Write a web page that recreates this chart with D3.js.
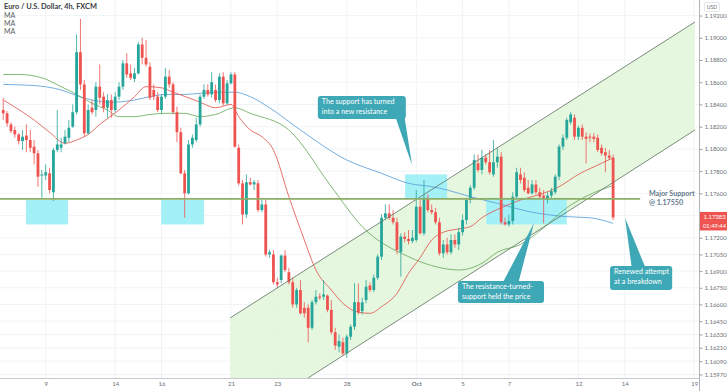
<!DOCTYPE html>
<html><head><meta charset="utf-8">
<script src="https://cdn.jsdelivr.net/npm/d3@7"></script>
<style>html,body{margin:0;padding:0;background:#fff;}svg{display:block;}</style>
</head><body>
<svg id="c" width="728" height="391"></svg>
<script>
// ---------- DATA (EUR/USD 4h, FXCM) ----------
const opens = [
1.1835,1.1832,1.1822,1.1817,1.1813,1.1807,1.1812,1.1808,1.1802,1.1796,
1.1776,1.1776,1.1778,1.1761,1.1799,1.1801,1.1805,1.1810,1.1820,1.1833,
1.1887,1.1858,1.1814,1.1837,1.1835,1.1856,1.1847,1.1837,1.1844,1.1835,
1.1847,1.1856,1.1877,1.1868,1.1863,1.1868,1.1894,1.1882,1.1874,1.1853,
1.1847,1.1835,1.1847,1.1865,1.1858,1.1833,1.1815,1.1778,1.1760,1.1804,
1.1808,1.1822,1.1847,1.1853,1.1849,1.1853,1.1844,1.1865,1.1841,1.1859,
1.1867,1.1801,1.1769,1.1741,1.1770,1.1768,1.1769,1.1745,1.1750,1.1705,
1.1705,1.1680,1.1682,1.1704,1.1689,1.1680,1.1660,1.1673,1.1657,1.1657,
1.1639,1.1662,1.1667,1.1667,1.1668,1.1655,1.1635,1.1622,1.1626,1.1616,
1.1631,1.1640,1.1662,1.1654,1.1664,1.1677,1.1673,1.1684,1.1703,1.1738,
1.1742,1.1738,1.1734,1.1707,1.1721,1.1719,1.1717,1.1718,1.1748,1.1724,
1.1756,1.1745,1.1743,1.1734,1.1706,1.1714,1.1707,1.1718,1.1714,1.1725,
1.1736,1.1754,1.1765,1.1787,1.1781,1.1792,1.1788,1.1777,1.1788,1.1793,
1.1734,1.1732,1.1735,1.1757,1.1777,1.1774,1.1765,1.1760,1.1768,1.1761,
1.1758,1.1754,1.1758,1.1761,1.1775,1.1802,1.1810,1.1824,1.1828,1.1811,
1.1819,1.1811,1.1811,1.1811,1.1810,1.1801,1.1797,1.1794,1.1792];
const highs = [
1.1846,1.1834,1.1824,1.1820,1.1814,1.1817,1.1822,1.1817,1.1808,1.1799,
1.1781,1.1786,1.1783,1.1801,1.1835,1.1810,1.1817,1.1826,1.1840,1.1903,
1.1917,1.1862,1.1840,1.1844,1.1860,1.1876,1.1851,1.1849,1.1849,1.1851,
1.1860,1.1880,1.1886,1.1876,1.1873,1.1896,1.1900,1.1898,1.1878,1.1858,
1.1851,1.1849,1.1873,1.1871,1.1860,1.1838,1.1819,1.1781,1.1808,1.1813,
1.1828,1.1849,1.1858,1.1858,1.1869,1.1858,1.1868,1.1869,1.1862,1.1869,
1.1869,1.1804,1.1772,1.1777,1.1774,1.1772,1.1772,1.1754,1.1754,1.1709,
1.1709,1.1684,1.1705,1.1709,1.1693,1.1684,1.1675,1.1682,1.1662,1.1660,
1.1664,1.1673,1.1670,1.1682,1.1669,1.1664,1.1639,1.1633,1.1630,1.1633,
1.1642,1.1679,1.1679,1.1666,1.1682,1.1680,1.1687,1.1705,1.1741,1.1750,
1.1750,1.1745,1.1738,1.1724,1.1725,1.1727,1.1727,1.1763,1.1754,1.1772,
1.1759,1.1750,1.1747,1.1738,1.1718,1.1720,1.1723,1.1723,1.1729,1.1741,
1.1756,1.1767,1.1795,1.1795,1.1799,1.1795,1.1799,1.1808,1.1801,1.1797,
1.1738,1.1741,1.1761,1.1783,1.1783,1.1779,1.1772,1.1772,1.1772,1.1765,
1.1763,1.1761,1.1765,1.1777,1.1804,1.1813,1.1828,1.1833,1.1831,1.1821,
1.1822,1.1815,1.1814,1.1814,1.1813,1.1804,1.1801,1.1799,1.1795];
const lows = [
1.1826,1.1820,1.1814,1.1810,1.1804,1.1799,1.1797,1.1797,1.1786,1.1766,
1.1756,1.1772,1.1760,1.1753,1.1797,1.1797,1.1804,1.1806,1.1819,1.1831,
1.1853,1.1811,1.1813,1.1831,1.1829,1.1840,1.1833,1.1828,1.1828,1.1833,
1.1844,1.1853,1.1864,1.1862,1.1860,1.1867,1.1876,1.1874,1.1844,1.1844,
1.1833,1.1832,1.1845,1.1855,1.1831,1.1806,1.1777,1.1738,1.1759,1.1801,
1.1806,1.1820,1.1845,1.1847,1.1846,1.1842,1.1841,1.1839,1.1840,1.1858,
1.1801,1.1767,1.1732,1.1738,1.1767,1.1763,1.1743,1.1743,1.1703,1.1702,
1.1678,1.1675,1.1679,1.1689,1.1678,1.1657,1.1657,1.1651,1.1648,1.1626,
1.1637,1.1660,1.1664,1.1664,1.1653,1.1633,1.1619,1.1617,1.1614,1.1612,
1.1628,1.1637,1.1651,1.1651,1.1661,1.1671,1.1671,1.1682,1.1700,1.1736,
1.1736,1.1732,1.1705,1.1685,1.1716,1.1714,1.1715,1.1716,1.1723,1.1722,
1.1743,1.1741,1.1732,1.1704,1.1702,1.1705,1.1705,1.1711,1.1709,1.1722,
1.1732,1.1751,1.1763,1.1779,1.1777,1.1786,1.1777,1.1775,1.1783,1.1732,
1.1731,1.1730,1.1732,1.1755,1.1769,1.1761,1.1759,1.1759,1.1759,1.1755,
1.1733,1.1751,1.1755,1.1759,1.1772,1.1799,1.1808,1.1822,1.1808,1.1808,
1.1808,1.1787,1.1806,1.1806,1.1797,1.1794,1.1779,1.1790,1.1736];
const closes = [
1.1832,1.1823,1.1816,1.1813,1.1807,1.1811,1.1808,1.1801,1.1796,1.1775,
1.1777,1.1779,1.1763,1.1799,1.1804,1.1804,1.1811,1.1819,1.1833,1.1887,
1.1858,1.1814,1.1835,1.1833,1.1856,1.1846,1.1837,1.1844,1.1835,1.1847,
1.1856,1.1877,1.1867,1.1864,1.1868,1.1894,1.1882,1.1876,1.1846,1.1847,
1.1835,1.1847,1.1865,1.1858,1.1833,1.1815,1.1778,1.1760,1.1804,1.1810,
1.1822,1.1847,1.1853,1.1849,1.1860,1.1844,1.1865,1.1841,1.1859,1.1867,
1.1802,1.1769,1.1741,1.1770,1.1768,1.1770,1.1745,1.1750,1.1705,1.1707,
1.1680,1.1678,1.1704,1.1691,1.1680,1.1660,1.1673,1.1652,1.1652,1.1639,
1.1662,1.1667,1.1666,1.1669,1.1655,1.1635,1.1623,1.1627,1.1616,1.1631,
1.1640,1.1662,1.1653,1.1662,1.1676,1.1673,1.1684,1.1703,1.1738,1.1742,
1.1738,1.1734,1.1709,1.1721,1.1719,1.1717,1.1720,1.1748,1.1724,1.1756,
1.1745,1.1743,1.1734,1.1706,1.1714,1.1707,1.1718,1.1714,1.1725,1.1736,
1.1754,1.1765,1.1790,1.1781,1.1792,1.1788,1.1779,1.1788,1.1793,1.1734,
1.1732,1.1735,1.1757,1.1779,1.1772,1.1763,1.1760,1.1768,1.1761,1.1757,
1.1756,1.1758,1.1762,1.1775,1.1802,1.1810,1.1826,1.1831,1.1811,1.1819,
1.1811,1.1809,1.1810,1.1809,1.1799,1.1796,1.1794,1.1792,1.17383];

// moving averages (candle index, price)
const maFastIdx = [0,8,12,16,19,22,25,30,34,37,41,44,48,51,55,59,61,64,67,70,74,78,81,85,88,92,95,98,102,105,108,111,114,118,121,124,129,134,139,144,149,155,158];
const maFastVal = [1.1844,1.1826,1.1815,1.1805,1.1808,1.1813,1.1822,1.1835,1.1847,1.1856,1.1855,1.1851,1.1846,1.1842,1.1837,1.1840,1.1829,1.1817,1.1811,1.1799,1.1757,1.1718,1.1691,1.1673,1.1661,1.1653,1.1652,1.1658,1.1670,1.1688,1.1702,1.1718,1.1725,1.1728,1.1730,1.1738,1.1747,1.1754,1.1759,1.1766,1.1777,1.1787,1.1792];
const maMidIdx = [0,4,10,15,19,23,27,30,34,38,42,47,51,55,60,64,74,85,93,105,111,118,124,128,134,140,146,152,158];
const maMidVal = [1.1867,1.1867,1.1864,1.1856,1.1849,1.1841,1.1835,1.1829,1.1829,1.1831,1.1832,1.1832,1.1829,1.1831,1.1837,1.1832,1.1817,1.1766,1.1730,1.1703,1.1695,1.1691,1.1697,1.1707,1.1714,1.1729,1.1747,1.1759,1.1767];
const maSlowIdx = [0,8,15,19,23,28,34,38,42,47,51,55,60,64,69,77,89,98,105,111,115,121,128,137,146,152,158];
const maSlowVal = [1.1858,1.1857,1.1853,1.1848,1.1844,1.1842,1.1844,1.1847,1.1849,1.1849,1.1850,1.1851,1.1851,1.1847,1.1837,1.1817,1.1790,1.1778,1.1769,1.1766,1.1763,1.1757,1.1751,1.1743,1.1739,1.1738,1.1733];

// axis ticks
const xTickIdx = [11,29,41,59,71,89,107,119,131,149,161,179];
const xTickLabels = ["9","14","16","21","23","28","Oct","5","7","12","14","19"];
const yTicks = [1.192,1.190,1.188,1.186,1.184,1.182,1.180,1.178,1.176,1.174,1.172,1.1705,1.169,1.1675,1.166,1.1645,1.1633,1.1621,1.1609,1.1597];

// annotations (candle index, price)
const supportPrice = 1.1755;
const channelUpper = [[58.75,1.16478],[179.2,1.19142]];
const channelLower = [[78.95,1.15938],[179.2,1.1817]];
const zones = [[5.9,16.8,1.1754,1.1732],[40.9,52.0,1.1754,1.1732],[104.1,115.0,1.1777,1.1755],[125.1,146.0,1.1756,1.1732]];
const callouts = [
 {i0:81.5,i1:104.3,p0:1.18476,p1:1.18269,lines:["The support has turned","into a new resistance"],base:[101.7,104.0],tip:[105.9,1.17855],down:true},
 {i0:117.8,i1:140.1,p0:1.16811,p1:1.16613,lines:["The resistance-turned-","support held the price"],base:[129.5,133.5],tip:[137.5,1.17333],down:false},
 {i0:157.2,i1:173.3,p0:1.16946,p1:1.1673,lines:["Renewed attempt","at a breakdown"],base:[162.8,166.3],tip:[161.1,1.17378],down:false}
];

// ---------- DRAW ----------
const svg = d3.select("#c");
const PR = 699, PB = 378;
const x = d3.scaleLinear().domain([0,180]).range([3.24, 3.24+180*3.86]);
const y = d3.scaleLinear().domain([1.1934,1.1592]).range([0,380]);
const font = "Lato, 'Open Sans', sans-serif";

svg.append("rect").attr("width",728).attr("height",391).attr("fill","#fff");
svg.append("defs").append("clipPath").attr("id","clip").append("rect").attr("x",0).attr("y",0).attr("width",PR).attr("height",PB);
const plot = svg.append("g").attr("clip-path","url(#clip)");

// grid
plot.selectAll(".vg").data(xTickIdx).join("line").attr("x1",d=>x(d)).attr("x2",d=>x(d)).attr("y1",0).attr("y2",PB).attr("stroke","#eef1f4").attr("stroke-width",0.8);
plot.selectAll(".hg").data(yTicks).join("line").attr("x1",0).attr("x2",PR).attr("y1",d=>y(d)).attr("y2",d=>y(d)).attr("stroke","#eef1f4").attr("stroke-width",0.8);

// channel fill
const pBottom = y.invert(PB);
const poly = [channelUpper[0],channelUpper[1],channelLower[1],channelLower[0],[channelUpper[0][0],pBottom]];
plot.append("path").attr("d", d3.line().x(d=>x(d[0])).y(d=>y(d[1]))(poly)+"Z").attr("fill","#e3f6dc").attr("opacity",0.9);

// zones
plot.selectAll(".zone").data(zones).join("rect")
 .attr("x",d=>x(d[0])).attr("width",d=>x(d[1])-x(d[0]))
 .attr("y",d=>y(d[2])).attr("height",d=>y(d[3])-y(d[2]))
 .attr("fill","#a3f1f6");

// MAs
const maLine = d3.line().x(d=>x(d[0])).y(d=>y(d[1])).curve(d3.curveMonotoneX);
function drawMA(idx,val,color){
  plot.append("path").attr("d",maLine(idx.map((v,k)=>[v,val[k]]))).attr("fill","none").attr("stroke",color).attr("stroke-width",0.85);
}
drawMA(maSlowIdx,maSlowVal,"#5b9fd9");
drawMA(maMidIdx,maMidVal,"#6aaa5e");
drawMA(maFastIdx,maFastVal,"#e0574f");

// candles
const candles = opens.map((o,k)=>({k,o,h:highs[k],l:lows[k],c:closes[k]}));
const up="#26a69a", dn="#ef5350";
const cg = plot.append("g");
cg.selectAll(".w").data(candles).join("line")
 .attr("x1",d=>x(d.k)).attr("x2",d=>x(d.k)).attr("y1",d=>y(d.h)).attr("y2",d=>y(d.l))
 .attr("stroke",d=>d.c>=d.o?up:dn).attr("stroke-width",0.8);
cg.selectAll(".b").data(candles).join("rect")
 .attr("x",d=>x(d.k)-1.4).attr("width",2.8)
 .attr("y",d=>y(Math.max(d.o,d.c)))
 .attr("height",d=>Math.max(0.8,Math.abs(y(d.o)-y(d.c))))
 .attr("fill",d=>d.c>=d.o?up:dn);

// channel lines
[channelUpper,channelLower].forEach(l=>{
  plot.append("line").attr("x1",x(l[0][0])).attr("y1",y(l[0][1])).attr("x2",x(l[1][0])).attr("y2",y(l[1][1]))
   .attr("stroke","#5d705e").attr("stroke-width",0.8);
});

// support line
plot.append("line").attr("x1",0).attr("x2",x(165)).attr("y1",y(supportPrice)).attr("y2",y(supportPrice)).attr("stroke","#8cae66").attr("stroke-width",1.6);

// callouts
const cc="#3ea8b6";
callouts.forEach(c=>{
  const g = svg.append("g");
  const bx0=x(c.i0), bx1=x(c.i1), by0=y(c.p0), by1=y(c.p1);
  const baseY = c.down? by1-1 : by0+1;
  g.append("path").attr("d",`M${x(c.base[0])},${baseY}L${x(c.base[1])},${baseY}L${x(c.tip[0])},${y(c.tip[1])}Z`).attr("fill",cc);
  g.append("rect").attr("x",bx0).attr("y",by0).attr("width",bx1-bx0).attr("height",by1-by0).attr("rx",3).attr("fill",cc);
  c.lines.forEach((t,j)=>{
    g.append("text").attr("x",bx0+4).attr("y",by0+8.3+j*9.3).text(t).attr("fill","#fff").attr("font-family",font).attr("font-size",7.1);
  });
});

// Major support label
svg.append("text").attr("x",649).attr("y",195.5).text("Major Support").attr("fill","#667a8c").attr("font-family",font).attr("font-size",7.1).attr("font-weight",700);
svg.append("text").attr("x",649).attr("y",205).text("@ 1.17550").attr("fill","#667a8c").attr("font-family",font).attr("font-size",7.1).attr("font-weight",700);

// axes
svg.append("line").attr("x1",0).attr("x2",PR).attr("y1",PB+0.5).attr("y2",PB+0.5).attr("stroke","#b8bcc2").attr("stroke-width",0.8);
svg.append("line").attr("x1",PR+0.5).attr("x2",PR+0.5).attr("y1",0).attr("y2",391).attr("stroke","#9aa0a6").attr("stroke-width",0.8);
const yAxis = d3.axisRight(y).tickValues(yTicks).tickFormat(d3.format(".5f")).tickSize(3).tickPadding(2);
const ya = svg.append("g").attr("transform",`translate(${PR+0.5},0)`).call(yAxis);
ya.select(".domain").remove();
ya.selectAll("line").attr("stroke","#9aa0a6");
ya.selectAll("text").attr("fill","#6b7077").attr("font-family",font).attr("font-size",6);
const xAxis = d3.axisBottom(x).tickValues(xTickIdx).tickFormat((d,k)=>xTickLabels[k]).tickSize(0).tickPadding(3);
const xa = svg.append("g").attr("transform",`translate(0,${PB+0.5})`).call(xAxis);
xa.select(".domain").remove();
xa.selectAll("text").attr("fill","#6b7077").attr("font-family",font).attr("font-size",6).attr("font-weight",d=>d===107?700:400);

// price label
const lastY = y(closes[closes.length-1]);
svg.append("rect").attr("x",PR+1).attr("y",lastY-5.5).attr("width",27).attr("height",10).attr("fill","#ef5350");
svg.append("text").attr("x",PR+4.5).attr("y",lastY+2).text(d3.format(".5f")(closes[closes.length-1])).attr("fill","#fff").attr("font-family",font).attr("font-size",6);
svg.append("rect").attr("x",PR+1).attr("y",lastY+4.5).attr("width",27).attr("height",8.5).attr("fill","#ef5350");
svg.append("text").attr("x",PR+4).attr("y",lastY+11).text("01:49:44").attr("fill","#fff").attr("font-family",font).attr("font-size",5.8);

// USD box
svg.append("rect").attr("x",704.5).attr("y",2.5).attr("width",15).attr("height",9).attr("fill","#fff").attr("stroke","#d0d3d7").attr("stroke-width",0.6).attr("rx",1);
svg.append("text").attr("x",712).attr("y",9).attr("text-anchor","middle").text("USD").attr("fill","#6b7077").attr("font-family",font).attr("font-size",5.2);

// header
svg.append("text").attr("x",4).attr("y",9).text("Euro / U.S. Dollar, 4h, FXCM").attr("fill","#3a3e44").attr("font-family",font).attr("font-size",7.4).attr("font-weight",700);
["MA","MA","MA"].forEach((t,j)=>svg.append("text").attr("x",4).attr("y",18+j*8.2).text(t).attr("fill","#5a5f66").attr("font-family",font).attr("font-size",7));
</script>
</body></html>
